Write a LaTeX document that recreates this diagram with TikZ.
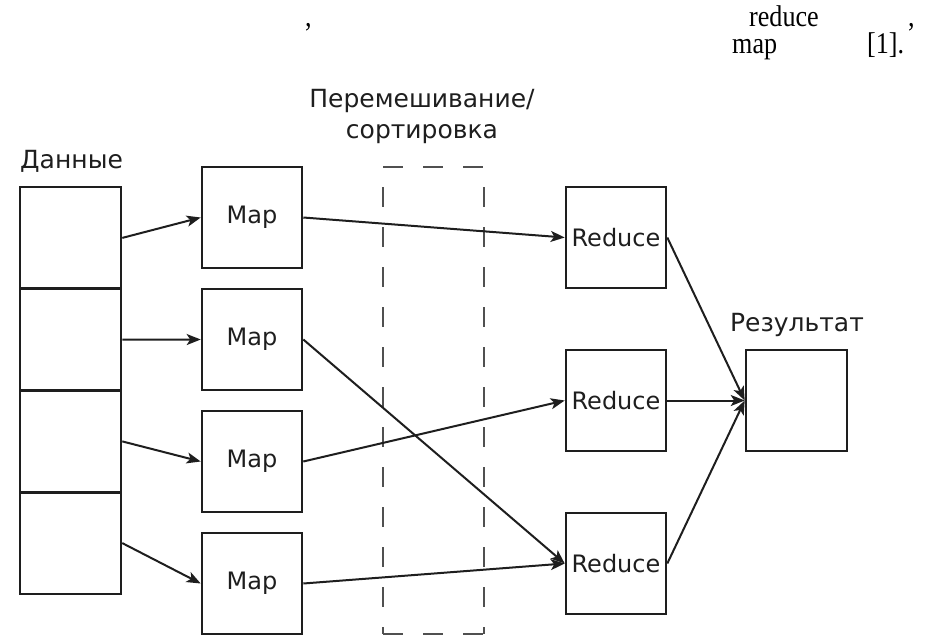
\documentclass[tikz,border=0pt]{standalone}
\usepackage{fontspec}
\newfontfamily\dv{DejaVu Sans}
\newfontfamily\lserif[FakeStretch=0.87]{Liberation Serif}
\usetikzlibrary{arrows.meta}
\definecolor{ink}{HTML}{1E1E1E}
\definecolor{dashc}{HTML}{505050}
\begin{document}
\begin{tikzpicture}[x=1pt,y=-1pt,
  box/.style={draw=ink, line width=2.6pt, minimum width=100pt, minimum height=101pt, inner sep=0pt, text=ink, font=\dv\fontsize{24}{28}\selectfont},
  databox/.style={box, minimum width=101pt, minimum height=101.75pt},
  lbl/.style={inner sep=0pt, text=ink, font=\dv\fontsize{25}{31}\selectfont},
  serif/.style={inner sep=0pt, text=black, font=\lserif\fontsize{30}{34}\selectfont},
  arr/.style={draw=ink, line width=2pt, -{Stealth[length=14pt,width=11pt,inset=3.5pt]}},
  dashline/.style={draw=dashc, line width=2.4pt, dash pattern=on 20pt off 20pt}]
\useasboundingbox (0,0) rectangle (932,640);

% top text fragments
\node[serif, anchor=base west] (c1) at (305,26) {,};
\node[serif, anchor=base west] (t1) at (749,26) {reduce};
\node[serif, anchor=base west] (c2) at (908,26) {,};
\node[serif, anchor=base west] (t2) at (732,53) {map};
\node[serif, anchor=base west] (t3) at (867,53) {[1].};

% labels
\node[lbl, anchor=base west] (ldata) at (20,168) {Данные};
\node[lbl, anchor=base] (lshuf1) at (422,107) {Перемешивание/};
\node[lbl, anchor=base] (lshuf2) at (422,138) {сортировка};
\node[lbl, anchor=base] (lres) at (797,331) {Результат};

% data blocks
\node[databox] (d1) at (70.5,237.9) {};
\node[databox] (d2) at (70.5,339.6) {};
\node[databox] (d3) at (70.5,441.4) {};
\node[databox] (d4) at (70.5,543.1) {};

% map boxes
\node[box] (m1) at (252,217.5) {Map};
\node[box] (m2) at (252,339.5) {Map};
\node[box] (m3) at (252,461.5) {Map};
\node[box] (m4) at (252,583.5) {Map};

% shuffle dashed frame
\coordinate (s1) at (383,167);
\coordinate (s2) at (484,167);
\coordinate (s3) at (484,634);
\coordinate (s4) at (383,634);
\draw[dashline] (s1) -- (s2);
\draw[dashline] (s4) -- (s3);
\draw[dashline, dash phase=20pt] (s1) -- (s4);
\draw[dashline, dash phase=20pt] (s2) -- (s3);

% reduce boxes
\node[box] (r1) at (616,237.5) {Reduce};
\node[box] (r2) at (616,400.5) {Reduce};
\node[box] (r3) at (616,563.5) {Reduce};

% result
\node[box, minimum width=101pt] (res) at (796.5,400.5) {};

% connectors
\draw[arr] (d1.east) -- (m1.west);
\draw[arr] (d2.east) -- (m2.west);
\draw[arr] (d3.east) -- (m3.west);
\draw[arr] (d4.east) -- (m4.west);

\draw[arr] (m1.east) -- (r1.west);
\draw[arr] (m2.east) -- (r3.west);
\draw[arr] (m3.east) -- (r2.west);
\draw[arr] (m4.east) -- (r3.west);

\draw[arr] (r1.east) -- (res.west);
\draw[arr] (r2.east) -- (res.west);
\draw[arr] (r3.east) -- (res.west);
\end{tikzpicture}
\end{document}
